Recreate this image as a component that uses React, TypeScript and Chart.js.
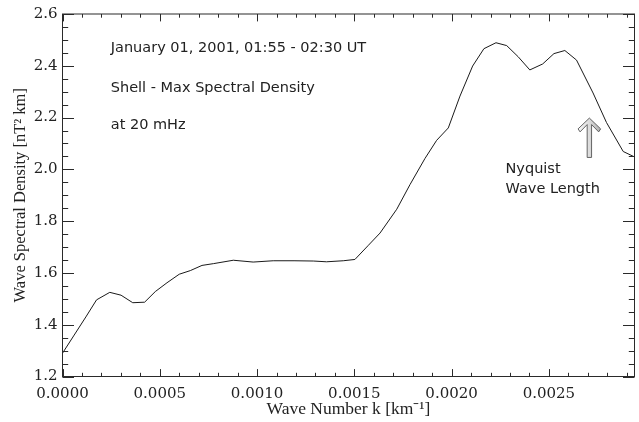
import React, { useEffect, useRef } from "react";
import { Chart, registerables } from "chart.js";

Chart.register(...registerables);

// ---- data ----
const waveNumber = [
  0, 0.00006, 0.00012, 0.000175, 0.000243, 0.000301, 0.000361, 0.000422,
  0.000477, 0.000537, 0.0006, 0.000657, 0.000717, 0.000777, 0.000878,
  0.00098, 0.001083, 0.00119, 0.001289, 0.001357, 0.001443, 0.001503,
  0.00157, 0.001632, 0.001718, 0.001786, 0.001863, 0.001923, 0.001983,
  0.002043, 0.002108, 0.002166, 0.002228, 0.002283, 0.002342, 0.002402,
  0.002468, 0.002526, 0.002582, 0.002642, 0.002727, 0.002796, 0.002882,
  0.00294,
];
const spectralDensity = [
  1.29, 1.36, 1.43, 1.496, 1.525, 1.514, 1.485, 1.487,
  1.528, 1.562, 1.595, 1.609, 1.629, 1.636, 1.649,
  1.642, 1.647, 1.647, 1.646, 1.643, 1.647, 1.652,
  1.705, 1.754, 1.846, 1.941, 2.042, 2.112, 2.16,
  2.283, 2.399, 2.466, 2.489, 2.478, 2.435, 2.384,
  2.407, 2.447, 2.459, 2.422, 2.295, 2.181, 2.069,
  2.048,
];

const xMin = 0;
const xMax = 0.00294;
const xMajorStep = 0.0005;
const xMinorStep = 0.0001;
const yMin = 1.2;
const yMax = 2.6;
const yMajorStep = 0.2;
const yMinorStep = 0.05;

const xTitle = "Wave Number k [km\u207B\u00B9]";
const yTitle = "Wave Spectral Density [nT\u00B2 km]";

const infoLines = [
  "January 01, 2001, 01:55 - 02:30 UT",
  "Shell - Max Spectral Density",
  "at 20 mHz",
];
const infoK = 0.000248;
const infoBaselines = [2.453, 2.297, 2.154];

const nyquistLines = ["Nyquist", "Wave Length"];
const nyquistK = 0.002277;
const nyquistBaselines = [1.985, 1.91];

const arrowK = 0.002708;
const arrowTip = 2.198;
const arrowBase = 2.046;

const serif = "'DejaVu Serif', serif";
const titleSerif = "'Liberation Serif', serif";
const sans = "'DejaVu Sans', sans-serif";
const ink = "#222";

const idlPlugin = {
  id: "idlFrame",
  afterDatasetsDraw(chart: any) {
    const { ctx, chartArea: a, scales } = chart;
    const xs = scales.x;
    const ys = scales.y;
    ctx.save();
    ctx.strokeStyle = "#2a2a2a";
    ctx.lineWidth = 1;
    ctx.strokeRect(a.left, a.top, a.right - a.left, a.bottom - a.top);

    ctx.beginPath();
    const xPer = Math.round(xMajorStep / xMinorStep);
    const nx = Math.floor((xMax - xMin) / xMinorStep + 1e-6);
    for (let i = 0; i <= nx; i++) {
      const v = xMin + i * xMinorStep;
      const px = Math.round(xs.getPixelForValue(v)) + 0.5;
      const len = i % xPer === 0 ? 7.4 : 3.7;
      ctx.moveTo(px, a.bottom);
      ctx.lineTo(px, a.bottom - len);
      ctx.moveTo(px, a.top);
      ctx.lineTo(px, a.top + len);
    }
    const yPer = Math.round(yMajorStep / yMinorStep);
    const ny = Math.round((yMax - yMin) / yMinorStep);
    for (let i = 0; i <= ny; i++) {
      const v = yMin + i * yMinorStep;
      const py = Math.round(ys.getPixelForValue(v)) + 0.5;
      const len = i % yPer === 0 ? 11.5 : 5.7;
      ctx.moveTo(a.left, py);
      ctx.lineTo(a.left + len, py);
      ctx.moveTo(a.right, py);
      ctx.lineTo(a.right - len, py);
    }
    ctx.stroke();

    // annotation text
    ctx.fillStyle = ink;
    ctx.font = `14.5px ${sans}`;
    ctx.textAlign = "left";
    ctx.textBaseline = "alphabetic";
    infoLines.forEach((t, i) => {
      ctx.fillText(t, xs.getPixelForValue(infoK), ys.getPixelForValue(infoBaselines[i]));
    });
    nyquistLines.forEach((t, i) => {
      ctx.fillText(t, xs.getPixelForValue(nyquistK), ys.getPixelForValue(nyquistBaselines[i]));
    });

    // hollow arrow
    const ax = xs.getPixelForValue(arrowK);
    const at = ys.getPixelForValue(arrowTip);
    const ab = ys.getPixelForValue(arrowBase);
    const headH = 13;
    const headW = 11.3;
    const shaftW = 2.2;
    const wingT = 2.2;
    ctx.beginPath();
    ctx.moveTo(ax, at);
    ctx.lineTo(ax + headW, at + headH - wingT);
    ctx.lineTo(ax + headW - 2, at + headH + 0.8);
    ctx.lineTo(ax + shaftW, at + 6.5);
    ctx.lineTo(ax + shaftW, ab);
    ctx.lineTo(ax - shaftW, ab);
    ctx.lineTo(ax - shaftW, at + 6.5);
    ctx.lineTo(ax - headW + 2, at + headH + 0.8);
    ctx.lineTo(ax - headW, at + headH - wingT);
    ctx.closePath();
    const g = ctx.createLinearGradient(ax - headW, 0, ax + headW, 0);
    g.addColorStop(0, "#f6f6f6");
    g.addColorStop(0.5, "#dcdcdc");
    g.addColorStop(1, "#b0b0b0");
    ctx.fillStyle = g;
    ctx.fill();
    ctx.strokeStyle = "#555";
    ctx.lineWidth = 0.9;
    ctx.stroke();
    ctx.restore();
  },
};

export default function App() {
  const canvasRef = useRef<HTMLCanvasElement | null>(null);

  useEffect(() => {
    const canvas = canvasRef.current;
    if (!canvas) return;
    const points = waveNumber.map((k, i) => ({ x: k, y: spectralDensity[i] }));
    const chart = new Chart(canvas, {
      type: "scatter",
      data: {
        datasets: [
          {
            data: points,
            showLine: true,
            borderColor: "#1a1a1a",
            borderWidth: 1,
            pointRadius: 0,
            tension: 0,
            fill: false,
          },
        ],
      },
      options: {
        responsive: false,
        animation: false,
        devicePixelRatio: 1,
        layout: { padding: { top: 8.5, right: 4.5, left: 0, bottom: 0 } },
        plugins: {
          legend: { display: false },
          tooltip: { enabled: false },
        },
        scales: {
          x: {
            type: "linear",
            min: xMin,
            max: xMax,
            grid: { display: false, drawTicks: false, tickLength: 0 },
            border: { display: false },
            ticks: {
              stepSize: xMajorStep,
              includeBounds: false,
              padding: 9,
              color: ink,
              font: { family: serif, size: 15 },
              maxRotation: 0,
              callback: (v: any) => Number(v).toFixed(4),
            },
            title: {
              display: true,
              text: xTitle,
              color: ink,
              font: { family: titleSerif, size: 17.5 },
              padding: { top: 0, bottom: 2 },
            },
            afterFit: (s: any) => {
              s.height = 45.5;
            },
          },
          y: {
            type: "linear",
            min: yMin,
            max: yMax,
            grid: { display: false, drawTicks: false, tickLength: 0 },
            border: { display: false },
            ticks: {
              stepSize: yMajorStep,
              padding: 5,
              color: ink,
              font: { family: serif, size: 15 },
              callback: (v: any) => Number(v).toFixed(1),
            },
            title: {
              display: true,
              text: yTitle,
              color: ink,
              font: { family: titleSerif, size: 16.5 },
              padding: { top: 11, bottom: 0 },
            },
            afterFit: (s: any) => {
              s.width = 62.5;
            },
          },
        },
      },
      plugins: [idlPlugin],
    });
    return () => chart.destroy();
  }, []);

  return (
    <div
      style={{
        position: "fixed",
        left: 0,
        top: 0,
        width: 639,
        height: 422,
        background: "#fff",
      }}
    >
      <canvas ref={canvasRef} width={639} height={422} style={{ display: "block" }} />
    </div>
  );
}
